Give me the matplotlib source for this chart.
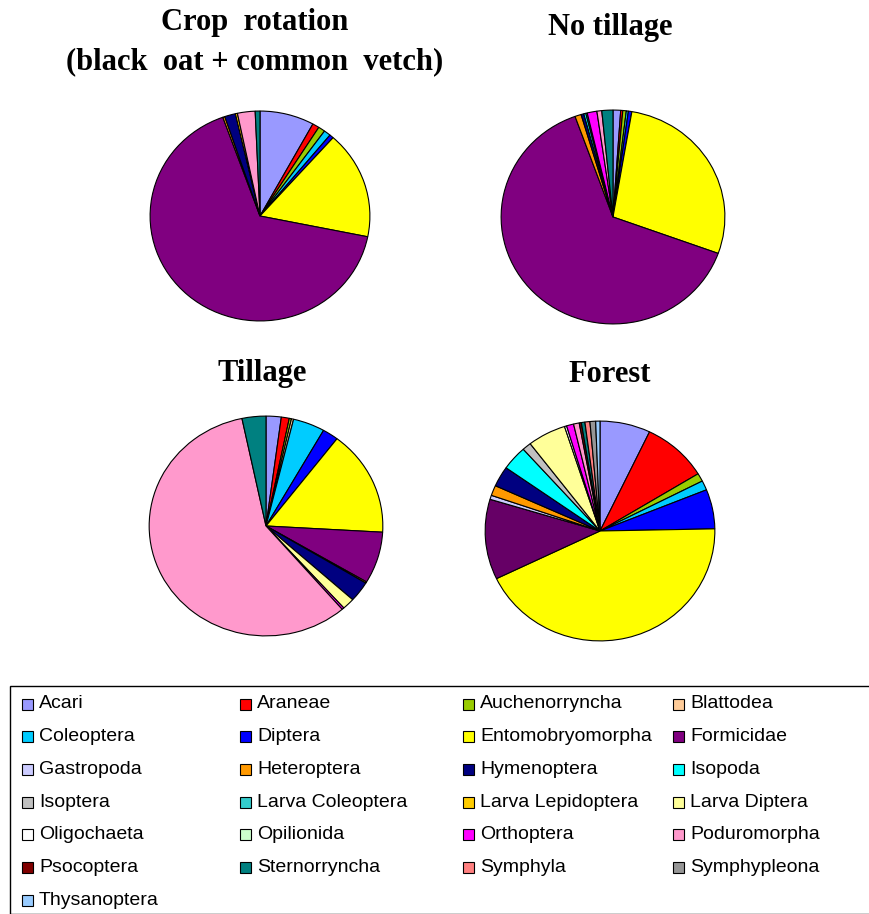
import matplotlib.pyplot as plt
from matplotlib.patches import Rectangle

categories = ['Acari', 'Araneae', 'Auchenorryncha', 'Blattodea', 'Coleoptera',
              'Diptera', 'Entomobryomorpha', 'Formicidae', 'Gastropoda', 'Heteroptera',
              'Hymenoptera', 'Isopoda', 'Isoptera', 'Larva Coleoptera', 'Larva Lepidoptera',
              'Larva Diptera', 'Oligochaeta', 'Opilionida', 'Orthoptera', 'Poduromorpha',
              'Psocoptera', 'Sternorryncha', 'Symphyla', 'Symphypleona', 'Thysanoptera']

colors = ['#9999FF', '#FF0000', '#99CC00', '#FFCC99', '#00CCFF',
          '#0000FF', '#FFFF00', '#800080', '#CCCCFF', '#FF9900',
          '#000080', '#00FFFF', '#C0C0C0', '#33CCCC', '#FFCC00',
          '#FFFF99', '#FFFFFF', '#CCFFCC', '#FF00FF', '#FF99CC',
          '#800000', '#008080', '#FF8080', '#969696', '#99CCFF']

# relative abundance (%) per site, same order as categories
crop_rotation = [8.0, 1.0, 1.0, 0, 1.0, 0.6, 16.6, 66.4, 0, 0.3,
                 1.6, 0, 0, 0, 0.3, 0, 0, 0, 0, 2.6,
                 0, 0.7, 0, 0, 0]
no_tillage = [1.1, 0.3, 0.5, 0, 0.3, 0.5, 27.8, 63.9, 0, 0.9,
              0.4, 0.3, 0, 0.2, 0, 0, 0, 0, 1.4, 0.7,
              0, 1.6, 0, 0, 0]
tillage = [2.1, 1.1, 0.3, 0.3, 4.4, 2.2, 15.5, 7.6, 0, 0.2,
           3.0, 0, 0, 0, 0, 1.7, 0, 0, 0.3, 58.0,
           0, 3.3, 0, 0, 0]
forest = [7.1, 9.2, 1.2, 0, 1.4, 5.8, 43.2, 11.8, 0.6, 1.5,
          3.0, 3.6, 1.25, 0, 0, 5.4, 0.3, 0, 1.0, 0.8,
          0.3, 0.5, 0.7, 0.8, 0.6]

titles = ['Crop  rotation\n(black  oat + common  vetch)', 'No tillage', 'Tillage', 'Forest']
site_values = [crop_rotation, no_tillage, tillage, forest]

W, H = 870, 914
fig = plt.figure(figsize=(W / 100, H / 100), dpi=100)

# pie boxes in pixels: centre x, centre y, radius x, radius y
boxes = [(260, 216, 111, 106), (613, 217, 113, 108),
         (266, 526, 118, 111), (600, 531, 116, 111)]
title_pos = [(255, 42), (610, 28), (262, 374), (610, 374)]

for k, (vals, (cx, cy, rx, ry)) in enumerate(zip(site_values, boxes)):
    ax = fig.add_axes([(cx - rx) / W, 1 - (cy + ry) / H, 2 * rx / W, 2 * ry / H])
    cols = list(colors)
    if k == 3:
        cols[7] = '#660066'  # forest ant slice is drawn darker
    v = [x for x in vals if x > 0]
    c = [cols[i] for i, x in enumerate(vals) if x > 0]
    ax.pie(v, colors=c, startangle=90, counterclock=False,
           wedgeprops=dict(edgecolor='black', linewidth=0.8))
    ax.set_aspect('auto')
    ax.set_xlim(-1.01, 1.01)
    ax.set_ylim(-1.01, 1.01)
    tx, ty = title_pos[k]
    fig.text(tx / W, 1 - ty / H, titles[k], ha='center', va='center',
             family='Liberation Serif', weight='bold', fontsize=22, linespacing=1.45)

# legend box
fig.add_artist(Rectangle((10 / W, 0), 1.0, 1 - 686 / H, transform=fig.transFigure,
                         facecolor='white', edgecolor='black', linewidth=1.0))
col_x = [22, 240, 463, 673]
for i, name in enumerate(categories):
    r, cidx = divmod(i, 4)
    y = 704 + r * 32.7
    x = col_x[cidx]
    fig.add_artist(Rectangle((x / W, 1 - (y + 5.5) / H), 11 / W, 11 / H,
                             transform=fig.transFigure, facecolor=colors[i],
                             edgecolor='black', linewidth=0.8))
    fig.text((x + 17) / W, 1 - y / H, name, ha='left', va='center',
             family='Liberation Sans', fontsize=14)

fig.savefig('out.png', dpi=100)
